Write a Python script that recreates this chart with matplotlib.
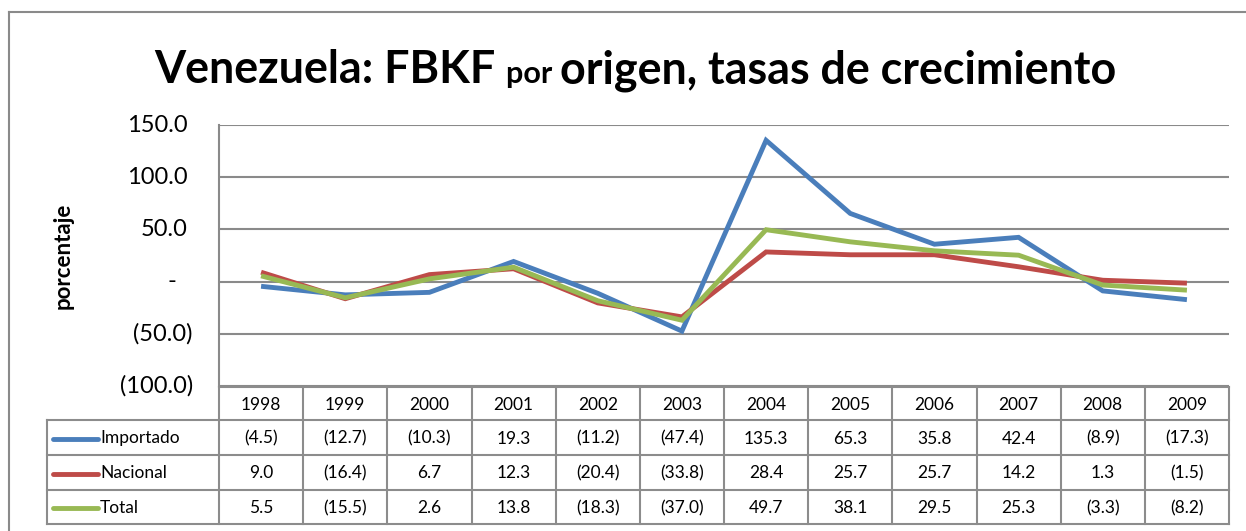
import matplotlib
matplotlib.use("Agg")
import matplotlib.pyplot as plt
import numpy as np

years = ["1998", "1999", "2000", "2001", "2002", "2003", "2004", "2005", "2006", "2007", "2008", "2009"]
importado = [-4.5, -12.7, -10.3, 19.3, -11.2, -47.4, 135.3, 65.3, 35.8, 42.4, -8.9, -17.3]
nacional = [9.0, -16.4, 6.7, 12.3, -20.4, -33.8, 28.4, 25.7, 25.7, 14.2, 1.3, -1.5]
total = [5.5, -15.5, 2.6, 13.8, -18.3, -37.0, 49.7, 38.1, 29.5, 25.3, -3.3, -8.2]
series_names = ["Importado", "Nacional", "Total"]
series_values = [importado, nacional, total]
series_colors = ["#4A7EBB", "#BE4B48", "#98B954"]
yticks = [150.0, 100.0, 50.0, 0.0, -50.0, -100.0]

plt.rcParams['font.family'] = ['Lato', 'DejaVu Sans']

W, H = 1246, 531
fig = plt.figure(figsize=(W / 100, H / 100), dpi=100)

# pixel geometry
pl, pr, pt, pb = 219, 1229, 125, 386
ax = fig.add_axes([pl / W, 1 - pb / H, (pr - pl) / W, (pb - pt) / H])
x = np.arange(len(years))
for name, vals, col in zip(series_names, series_values, series_colors):
    ax.plot(x, vals, color=col, lw=3.5, solid_joinstyle='miter', solid_capstyle='butt', zorder=3)
ax.set_xlim(-0.5, len(years) - 0.5)
ax.set_ylim(-100, 150)
ax.set_yticks(yticks)
ax.yaxis.grid(True, color='#8a8a8a', lw=1.5)
ax.set_yticklabels([])
ax.tick_params(axis='both', length=0)
ax.set_xticks([])
for s in ['top', 'right', 'bottom']:
    ax.spines[s].set_visible(False)
ax.spines['left'].set_color('#8a8a8a')
ax.spines['left'].set_linewidth(1.5)
ax.set_axisbelow(True)

def fmt(v):
    if v == 0:
        return "-"
    if v < 0:
        return "({:.1f})".format(-v)
    return "{:.1f}".format(v)

# overlay axes in pixel coordinates for frame, labels and table
ov = fig.add_axes([0, 0, 1, 1], zorder=-1)
ov.set_xlim(0, W)
ov.set_ylim(H, 0)
ov.axis('off')
ov.patch.set_alpha(0)

frame_col = '#8a8a8a'
ov.plot([9, 9], [12, H], color=frame_col, lw=1.5)
ov.plot([9, W], [12, 12], color=frame_col, lw=1.5)

# y tick labels (Excel accounting style)
def ypix(v):
    return pt + (150 - v) / 250 * (pb - pt)

for v in yticks:
    s = fmt(v)
    if v > 0:
        ov.text(188, ypix(v), s, ha='right', va='center', fontsize=17, color='black')
    elif v < 0:
        ov.text(193, ypix(v), s, ha='right', va='center', fontsize=17, color='black')
    else:
        ov.text(172, ypix(v), s, ha='center', va='center', fontsize=17, color='black')

ov.text(63, 256, "porcentaje", rotation=90, ha='center', va='center', fontsize=16, fontweight='bold')

# table
rows_y = [387, 420, 455, 490, 524]
ncol = len(years)
cw = (pr - pl) / ncol
tcol = '#8c8c8c'
legend_left = 47
ov.plot([pl, pr], [rows_y[0], rows_y[0]], color=tcol, lw=1.5)
for yy in rows_y[1:]:
    ov.plot([legend_left, pr], [yy, yy], color=tcol, lw=1.5)
for i in range(ncol + 1):
    xx = pl + i * cw
    ov.plot([xx, xx], [rows_y[0], rows_y[-1]], color=tcol, lw=1.5)
ov.plot([legend_left, legend_left], [rows_y[1], rows_y[-1]], color=tcol, lw=1.5)

fs_tab = 12.5
for i, yr in enumerate(years):
    ov.text(pl + (i + 0.5) * cw, (rows_y[0] + rows_y[1]) / 2 + 1, yr, ha='center', va='center', fontsize=fs_tab)
for r, (name, vals, col) in enumerate(zip(series_names, series_values, series_colors)):
    yc = (rows_y[r + 1] + rows_y[r + 2]) / 2 + 1
    ov.plot([53, 98], [yc, yc], color=col, lw=3.5, solid_capstyle='round')
    ov.text(100, yc, name, ha='left', va='center', fontsize=fs_tab)
    for i, v in enumerate(vals):
        ov.text(pl + (i + 0.5) * cw, yc, fmt(v), ha='center', va='center', fontsize=fs_tab)

# title with mixed sizes
parts = [("Venezuela: FBKF ", 32.3), ("por ", 22), ("origen, tasas de crecimiento", 32.3)]
renderer = fig.canvas.get_renderer()
texts = []
for s, fsz in parts:
    t = ov.text(0, 83, s, ha='left', va='baseline', fontsize=fsz, fontweight='bold')
    texts.append(t)
widths = [t.get_window_extent(renderer=renderer).width for t in texts]
total_w = sum(widths)
cx = 635
xcur = cx - total_w / 2
for t, w in zip(texts, widths):
    t.set_x(xcur)
    xcur += w

fig.savefig("out.png", dpi=100)
